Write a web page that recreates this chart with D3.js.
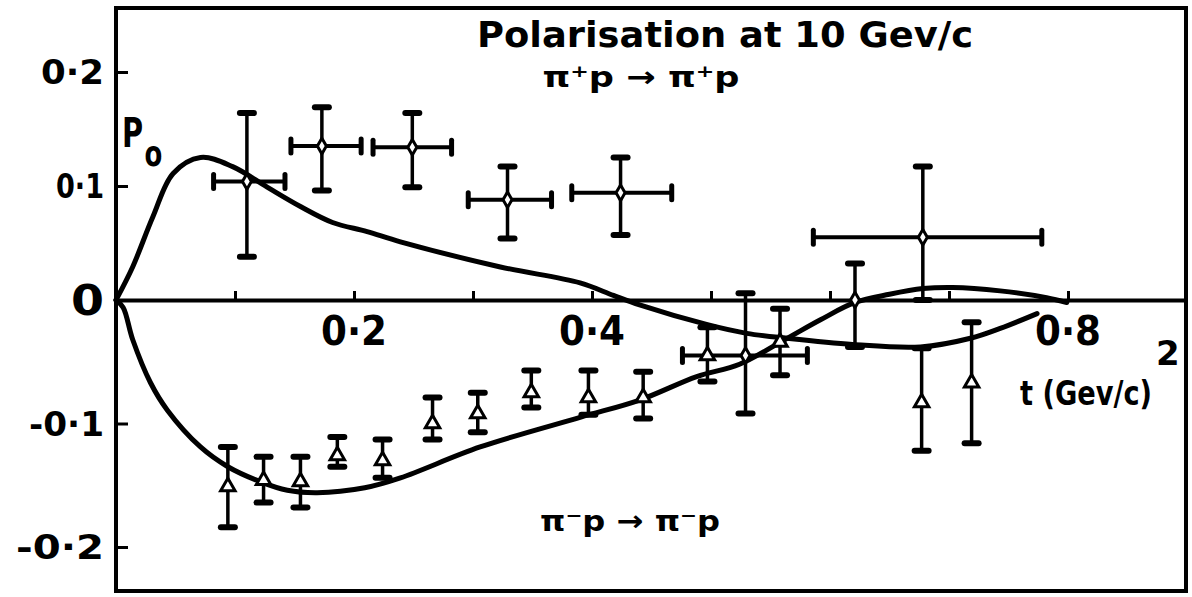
<!DOCTYPE html>
<html>
<head>
<meta charset="utf-8">
<script src="https://cdn.jsdelivr.net/npm/d3@7"></script>
<style>
  html, body { margin: 0; padding: 0; background: #fff; }
  svg { display: block; }
  text { font-family: "DejaVu Sans", sans-serif; font-weight: bold; fill: #000; }
</style>
</head>
<body>
<svg id="chart" width="1192" height="597"></svg>
<script>
// Theory curve for pi+ p -> pi+ p  (t in (GeV/c)^2, polarisation P0)
const plusCurveT = [0, 0.014, 0.031, 0.048, 0.071, 0.098, 0.127, 0.155, 0.182, 0.211, 0.239, 0.323, 0.390, 0.418, 0.440, 0.497, 0.530, 0.564, 0.619, 0.676, 0.718, 0.743, 0.774];
const plusCurveP = [0, 0.029, 0.073, 0.111, 0.125, 0.117, 0.099, 0.082, 0.068, 0.060, 0.051, 0.029, 0.015, 0.004, -0.004, -0.020, -0.027, -0.031, -0.036, -0.038, -0.031, -0.023, -0.011];

// Theory curve for pi- p -> pi- p
const minusCurveT = [0, 0.006, 0.014, 0.029, 0.043, 0.071, 0.094, 0.121, 0.144, 0.169, 0.209, 0.239, 0.306, 0.390, 0.440, 0.488, 0.524, 0.564, 0.592, 0.621, 0.650, 0.678, 0.703, 0.743, 0.782, 0.799];
const minusCurveP = [0, -0.006, -0.032, -0.067, -0.089, -0.119, -0.135, -0.147, -0.154, -0.156, -0.152, -0.144, -0.119, -0.095, -0.081, -0.062, -0.052, -0.031, -0.016, -0.002, 0.005, 0.010, 0.011, 0.008, 0.002, -0.002];

// Measured pi+ p points: centre, vertical error range, horizontal (t) range
const plusT   = [0.110, 0.173, 0.249, 0.329, 0.424, 0.529, 0.621, 0.678];
const plusP   = [0.104, 0.135, 0.134, 0.088, 0.094, -0.045, 0.000, 0.055];
const plusHi  = [0.164, 0.169, 0.164, 0.117, 0.125, 0.006, 0.032, 0.117];
const plusLo  = [0.038, 0.096, 0.099, 0.054, 0.057, -0.092, -0.038, 0.000];
const plusTLo = [0.082, 0.147, 0.216, 0.296, 0.383, 0.476, null, 0.586];
const plusTHi = [0.142, 0.206, 0.282, 0.366, 0.467, 0.581, null, 0.778];

// Measured pi- p points: centre and vertical error range
const minusT  = [0.094, 0.124, 0.155, 0.186, 0.224, 0.266, 0.304, 0.349, 0.397, 0.443, 0.497, 0.558, 0.677, 0.719];
const minusP  = [-0.151, -0.146, -0.147, -0.126, -0.130, -0.100, -0.092, -0.075, -0.079, -0.079, -0.045, -0.034, -0.083, -0.067];
const minusHi = [-0.119, -0.127, -0.127, -0.111, -0.113, -0.079, -0.075, -0.057, -0.057, -0.058, -0.022, -0.007, -0.039, -0.018];
const minusLo = [-0.184, -0.164, -0.168, -0.135, -0.144, -0.113, -0.107, -0.087, -0.093, -0.096, -0.066, -0.061, -0.122, -0.116];

// Axis ticks and labels
const xTicks = [0.1, 0.2, 0.3, 0.4, 0.5, 0.6, 0.7, 0.8];
const xLabelValues = [0.2, 0.4, 0.8];
const xLabelTexts = ["0·2", "0·4", "0·8"];
const yTicks = [-0.2, -0.1, 0.1, 0.2];
const yLabelValues = [0.2, 0.1, 0, -0.1, -0.2];
const yLabelTexts = ["0·2", "0·1", "0", "-0·1", "-0·2"];

const svg = d3.select("#chart");
svg.append("rect").attr("width", 1192).attr("height", 597).attr("fill", "#fff");

const box = { left: 116, right: 1186, top: 8, bottom: 591 };
const x = d3.scaleLinear().domain([0, 0.9]).range([116, 1187]);
const y = d3.scaleLinear().domain([-0.2, 0, 0.2]).range([547, 300, 72]);

// frame
svg.append("rect")
  .attr("x", box.left).attr("y", box.top)
  .attr("width", box.right - box.left).attr("height", box.bottom - box.top)
  .attr("fill", "none").attr("stroke", "#000").attr("stroke-width", 4);

// t axis along P = 0, ticks pointing up
const gx = svg.append("g").attr("transform", `translate(0,${y(0)})`)
  .call(d3.axisTop(x).tickValues(xTicks).tickSizeInner(9).tickSizeOuter(0).tickFormat(""));
gx.select(".domain").attr("stroke", "#000").attr("stroke-width", 4);
gx.selectAll(".tick line").attr("stroke", "#000").attr("stroke-width", 3);

// P axis ticks on the left frame edge
const gy = svg.append("g").attr("transform", `translate(${box.left},0)`)
  .call(d3.axisRight(y).tickValues(yTicks).tickSizeInner(12).tickSizeOuter(0).tickFormat(""));
gy.select(".domain").remove();
gy.selectAll(".tick line").attr("stroke", "#000").attr("stroke-width", 3);

// tick labels
svg.selectAll("text.xl").data(xLabelValues).join("text")
  .attr("class", "xl")
  .attr("x", d => x(d)).attr("y", 345)
  .attr("text-anchor", "middle")
  .attr("font-size", 40)
  .attr("textLength", 66).attr("lengthAdjust", "spacingAndGlyphs")
  .text((d, i) => xLabelTexts[i]);

const yLabelWidths = [63, 48, 33, 75, 88];
svg.selectAll("text.yl").data(yLabelValues).join("text")
  .attr("class", "yl")
  .attr("x", 104).attr("y", d => y(d) + (d === 0 ? 15 : 12))
  .attr("text-anchor", "end")
  .attr("font-size", (d) => d === 0 ? 42 : 34)
  .attr("textLength", (d, i) => yLabelWidths[i]).attr("lengthAdjust", "spacingAndGlyphs")
  .text((d, i) => yLabelTexts[i]);

// theory curves
const line = d3.line()
  .x(d => x(d[0])).y(d => y(d[1]))
  .curve(d3.curveCatmullRom.alpha(0.5));

svg.append("path")
  .datum(d3.zip(plusCurveT, plusCurveP))
  .attr("d", line)
  .attr("fill", "none").attr("stroke", "#000").attr("stroke-width", 5)
  .attr("stroke-linecap", "round").attr("stroke-linejoin", "round");

svg.append("path")
  .datum(d3.zip(minusCurveT, minusCurveP))
  .attr("d", line)
  .attr("fill", "none").attr("stroke", "#000").attr("stroke-width", 5)
  .attr("stroke-linecap", "round").attr("stroke-linejoin", "round");

// error bar helpers
function vBar(g, t, lo, hi) {
  const cx = x(t);
  g.append("line").attr("x1", cx).attr("x2", cx).attr("y1", y(hi)).attr("y2", y(lo))
    .attr("stroke", "#000").attr("stroke-width", 3.5);
  [hi, lo].forEach(v => {
    g.append("line").attr("x1", cx - 7).attr("x2", cx + 7).attr("y1", y(v)).attr("y2", y(v))
      .attr("stroke", "#000").attr("stroke-width", 6).attr("stroke-linecap", "round");
  });
}
function hBar(g, p, tlo, thi) {
  const cy = y(p);
  g.append("line").attr("x1", x(tlo)).attr("x2", x(thi)).attr("y1", cy).attr("y2", cy)
    .attr("stroke", "#000").attr("stroke-width", 4);
  [tlo, thi].forEach(v => {
    g.append("line").attr("x1", x(v)).attr("x2", x(v)).attr("y1", cy - 7).attr("y2", cy + 7)
      .attr("stroke", "#000").attr("stroke-width", 5).attr("stroke-linecap", "round");
  });
}

// pi+ points: diamonds with both error bars
const gPlus = svg.append("g");
plusT.forEach((t, i) => {
  vBar(gPlus, t, plusLo[i], plusHi[i]);
  if (plusTLo[i] !== null) hBar(gPlus, plusP[i], plusTLo[i], plusTHi[i]);
});
gPlus.selectAll("path.dm").data(d3.range(plusT.length)).join("path")
  .attr("class", "dm")
  .attr("d", d3.symbol(d3.symbolDiamond, 70))
  .attr("transform", i => `translate(${x(plusT[i])},${y(plusP[i])})`)
  .attr("fill", "#fff").attr("stroke", "#000").attr("stroke-width", 3);

// pi- points: open triangles with vertical error bars
const gMinus = svg.append("g");
minusT.forEach((t, i) => vBar(gMinus, t, minusLo[i], minusHi[i]));
gMinus.selectAll("path.tr").data(d3.range(minusT.length)).join("path")
  .attr("class", "tr")
  .attr("d", d3.symbol(d3.symbolTriangle, 90))
  .attr("transform", i => `translate(${x(minusT[i])},${y(minusP[i])})`)
  .attr("fill", "#fff").attr("stroke", "#000").attr("stroke-width", 3);

// titles and labels
svg.append("text").attr("x", 725).attr("y", 47).attr("text-anchor", "middle")
  .attr("font-size", 36).attr("textLength", 496).attr("lengthAdjust", "spacingAndGlyphs")
  .text("Polarisation at 10 Gev/c");

svg.append("text").attr("x", 641).attr("y", 87).attr("text-anchor", "middle")
  .attr("font-size", 29).attr("textLength", 197).attr("lengthAdjust", "spacingAndGlyphs")
  .text("π⁺p → π⁺p");

svg.append("text").attr("x", 630).attr("y", 531).attr("text-anchor", "middle")
  .attr("font-size", 29).attr("textLength", 180).attr("lengthAdjust", "spacingAndGlyphs")
  .text("π⁻p → π⁻p");

// P0 axis label: one text element with a lowered "o"
const pLabel = svg.append("text")
  .attr("transform", "translate(122,147) scale(0.72,1)")
  .attr("font-size", 40);
pLabel.append("tspan").text("P");
pLabel.append("tspan").attr("dx", 2).attr("dy", 19).attr("font-size", 36).text("o");

// t axis label with squared unit
const tLabel = svg.append("text").attr("x", 1020).attr("y", 405).attr("font-size", 34);
tLabel.append("tspan").attr("textLength", 132).attr("lengthAdjust", "spacingAndGlyphs").text("t (Gev/c)");
tLabel.append("tspan").attr("x", 1156).attr("y", 365).text("2");
</script>
</body>
</html>
